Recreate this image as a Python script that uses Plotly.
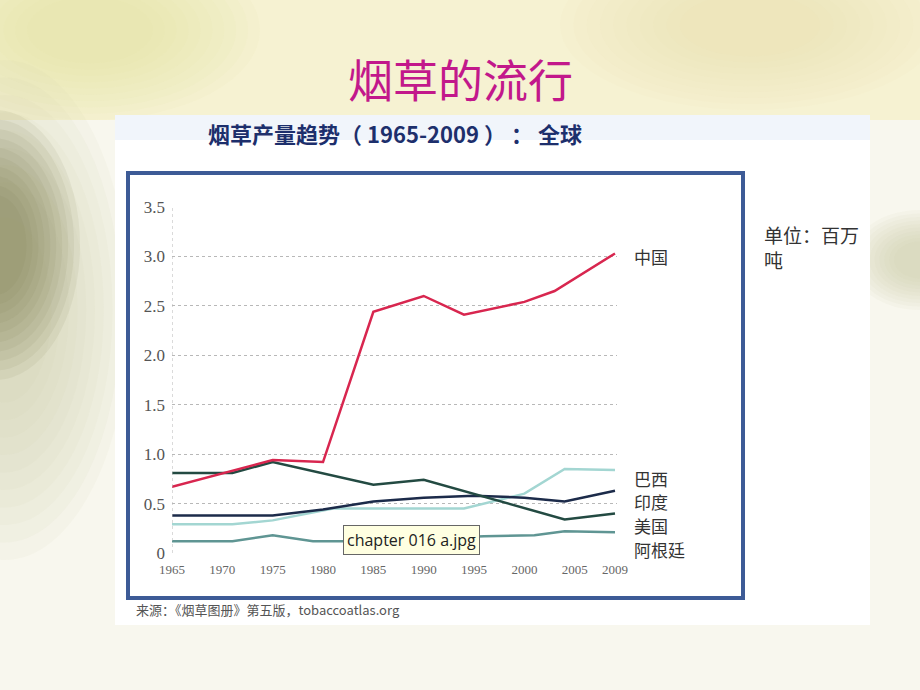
import plotly.graph_objects as go

W, H = 920, 690

# ---------------- data (million tonnes) ----------------
years_china = [1965, 1975, 1980, 1985, 1990, 1994, 2000, 2003, 2009]
china = [0.67, 0.94, 0.92, 2.44, 2.60, 2.41, 2.54, 2.65, 3.03]

years_brazil = [1965, 1971, 1975, 1981, 1994, 2000, 2004, 2009]
brazil = [0.29, 0.29, 0.33, 0.45, 0.45, 0.60, 0.85, 0.84]

years_india = [1965, 1975, 1980, 1985, 1990, 1995, 2000, 2004, 2009]
india = [0.38, 0.38, 0.44, 0.52, 0.56, 0.58, 0.56, 0.52, 0.63]

years_usa = [1965, 1971, 1975, 1985, 1990, 2004, 2009]
usa = [0.81, 0.81, 0.92, 0.69, 0.74, 0.34, 0.40]

years_arg = [1965, 1971, 1975, 1979, 1983, 1990, 1996, 2001, 2004, 2009]
argentina = [0.12, 0.12, 0.18, 0.12, 0.12, 0.15, 0.17, 0.18, 0.22, 0.21]

series_names = ["巴西", "阿根廷", "印度", "美国", "中国"]
y_tickvals = [0, 0.5, 1.0, 1.5, 2.0, 2.5, 3.0, 3.5]
y_ticktext = ["0", "0.5", "1.0", "1.5", "2.0", "2.5", "3.0", "3.5"]
x_tickvals = [1965, 1970, 1975, 1980, 1985, 1990, 1995, 2000, 2005, 2009]
x_ticktext = ["1965", "1970", "1975", "1980", "1985", "1990", "1995", "2000", "2005", "2009"]


def px(x):
    return x / W


def py(y):
    return 1 - y / H


fig = go.Figure()
series = [
    (years_brazil, brazil, "#a3d6d2", series_names[0]),
    (years_arg, argentina, "#5f9593", series_names[1]),
    (years_india, india, "#1c2b4a", series_names[2]),
    (years_usa, usa, "#234a42", series_names[3]),
    (years_china, china, "#d8264f", series_names[4]),
]
for xs, ys, col, nm in series:
    fig.add_trace(go.Scatter(x=xs, y=ys, mode="lines", name=nm,
                             line=dict(color=col, width=2.5), showlegend=False,
                             hoverinfo="skip"))

shapes = []


def soft_blob(x0, y0, x1, y1, color, steps=10, op=0.06):
    # layered ellipses that approximate a blurred patch
    for i in range(steps):
        f = i / steps * 0.7
        dx, dy = (x1 - x0) * f / 2, (y1 - y0) * f / 2
        shapes.append(dict(type="circle", xref="paper", yref="paper",
                           x0=px(x0 + dx), x1=px(x1 - dx), y0=py(y1 - dy), y1=py(y0 + dy),
                           fillcolor=color, opacity=op, line=dict(width=0), layer="below"))


# background slide (approximation of blurred photo)
shapes.append(dict(type="rect", xref="paper", yref="paper", x0=0, x1=1, y0=py(120), y1=1,
                   fillcolor="#f6f2d2", line=dict(width=0), layer="below"))
soft_blob(-80, -60, 260, 120, "#e6dc98", op=0.07)
soft_blob(560, -60, 940, 110, "#ebe2aa", op=0.06)
soft_blob(-120, 60, 130, 560, "#c9c6a4", op=0.08)
soft_blob(-90, 110, 80, 380, "#7f7d4e", op=0.09)
soft_blob(850, 210, 990, 310, "#c2c0a0", op=0.07)
# white panel
shapes.append(dict(type="rect", xref="paper", yref="paper", x0=px(115), x1=px(870), y0=py(625), y1=py(115),
                   fillcolor="#ffffff", line=dict(width=0), layer="below"))
shapes.append(dict(type="rect", xref="paper", yref="paper", x0=px(115), x1=px(870), y0=py(140), y1=py(115),
                   fillcolor="#f1f5fb", line=dict(width=0), layer="below"))
# chart frame
shapes.append(dict(type="rect", xref="paper", yref="paper", x0=px(128), x1=px(743), y0=py(598), y1=py(173),
                   fillcolor="rgba(0,0,0,0)", line=dict(color="#3d5b96", width=4)))
# dotted y-axis line
shapes.append(dict(type="line", xref="x", yref="y", x0=1965, x1=1965, y0=0, y1=3.5,
                   line=dict(color="#b5b5b5", width=1, dash="dot")))

annotations = [
    dict(text="烟草的流行", x=0.5, y=py(78), xref="paper", yref="paper", showarrow=False,
         font=dict(family="Noto Sans CJK SC", size=45, color="#c2188b"), xanchor="center", yanchor="middle"),
    dict(text="<b>烟草产量趋势（ 1965-2009 ） ： 全球</b>", x=px(206), y=py(133), xref="paper", yref="paper",
         showarrow=False, font=dict(family="Noto Sans CJK SC", size=22, color="#1d2f6c"),
         xanchor="left", yanchor="middle"),
    dict(text="单位：百万<br>吨", x=px(762), y=py(219), xref="paper", yref="paper", showarrow=False,
         align="left", font=dict(family="Noto Sans CJK SC", size=19, color="#333333"),
         xanchor="left", yanchor="top"),
    dict(text="来源：《烟草图册》第五版，tobaccoatlas.org", x=px(134), y=py(609), xref="paper", yref="paper",
         showarrow=False, font=dict(family="Noto Sans CJK SC", size=13, color="#555555"),
         xanchor="left", yanchor="middle"),
    dict(text="chapter 016 a.jpg", x=px(411), y=py(540), xref="paper", yref="paper", showarrow=False,
         font=dict(family="Open Sans", size=16, color="#222222"), bgcolor="#ffffe1",
         bordercolor="#666666", borderwidth=1, borderpad=3, xanchor="center", yanchor="middle"),
]
label_pos = [("中国", 257), ("巴西", 478), ("印度", 501), ("美国", 525), ("阿根廷", 549)]
for txt, yy in label_pos:
    annotations.append(dict(text=txt, x=px(632), y=py(yy), xref="paper", yref="paper", showarrow=False,
                            font=dict(family="Noto Sans CJK SC", size=17, color="#333333"),
                            xanchor="left", yanchor="middle"))

fig.update_layout(
    width=W, height=H, margin=dict(l=0, r=0, t=0, b=0, pad=0, autoexpand=False),
    paper_bgcolor="#f8f7ee", plot_bgcolor="rgba(0,0,0,0)",
    shapes=shapes, annotations=annotations,
    xaxis=dict(domain=[px(172), px(617)], range=[1965, 2009.2], tickvals=x_tickvals, ticktext=x_ticktext,
               showgrid=False, zeroline=False, showline=False, ticks="", ticklabelstandoff=7,
               tickfont=dict(family="Liberation Serif", size=13, color="#666666")),
    yaxis=dict(domain=[py(553), py(207)], range=[0, 3.5], tickvals=y_tickvals, ticktext=y_ticktext,
               showgrid=True, gridcolor="#b8b8b8", griddash="dot", gridwidth=1,
               zeroline=False, showline=False, ticks="", ticklabelstandoff=6,
               tickfont=dict(family="Liberation Serif", size=17, color="#555555")),
)

fig.write_html("out.html")
